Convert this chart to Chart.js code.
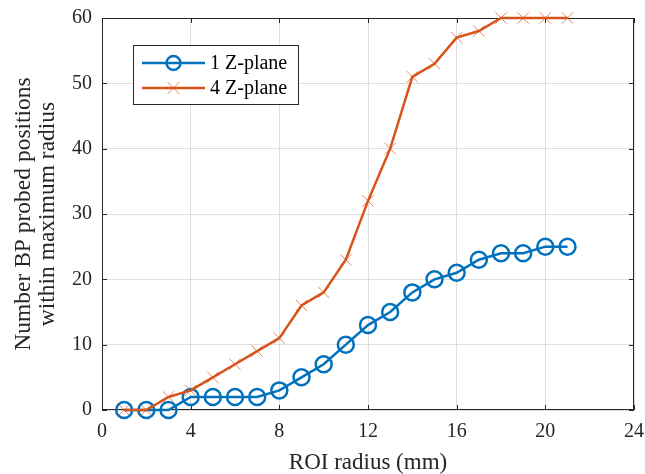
<!DOCTYPE html>
<html>
<head>
<meta charset="utf-8">
<script src="https://cdn.jsdelivr.net/npm/chart.js@4/dist/chart.umd.min.js"></script>
<style>
  html, body { margin: 0; padding: 0; background: #fff; }
  canvas { display: block; }
</style>
</head>
<body>
<canvas id="c" width="645" height="474"></canvas>
<script>
const radius = [1, 2, 3, 4, 5, 6, 7, 8, 9, 10, 11, 12, 13, 14, 15, 16, 17, 18, 19, 20, 21];
const oneZPlane = [0, 0, 0, 2, 2, 2, 2, 3, 5, 7, 10, 13, 15, 18, 20, 21, 23, 24, 24, 25, 25];
const fourZPlane = [0, 0, 2, 3, 5, 7, 9, 11, 16, 18, 23, 32, 40, 51, 53, 57, 58, 60, 60, 60, 60];
const xTicks = [0, 4, 8, 12, 16, 20, 24];
const yTicks = [0, 10, 20, 30, 40, 50, 60];
const seriesNames = ['1 Z-plane', '4 Z-plane'];
const xTitle = 'ROI radius (mm)';
const yTitle = ['Number BP probed positions', 'within maximum radius'];

const BLUE = '#0072BD';
const ORANGE = '#D95319';
const AXIS = '#262626';
const FONT = '"Liberation Serif", "Times New Roman", serif';

const toPts = (ys) => radius.map((x, i) => ({ x: x, y: ys[i] }));

const boxPlugin = {
  id: 'matlabBox',
  beforeDatasetsDraw(chart) {
    const { ctx, chartArea: a, scales } = chart;
    ctx.save();
    ctx.strokeStyle = AXIS;
    ctx.lineWidth = 1;
    ctx.beginPath();
    ctx.rect(Math.round(a.left) + 0.5, Math.round(a.top) + 0.5,
             Math.round(a.right - a.left) - 1, Math.round(a.bottom - a.top) - 1);
    ctx.stroke();
    const tl = 5;
    ctx.beginPath();
    scales.x.ticks.forEach(t => {
      const px = Math.round(scales.x.getPixelForValue(t.value)) + 0.5;
      ctx.moveTo(px, a.bottom); ctx.lineTo(px, a.bottom - tl);
      ctx.moveTo(px, a.top); ctx.lineTo(px, a.top + tl);
    });
    scales.y.ticks.forEach(t => {
      const py = Math.round(scales.y.getPixelForValue(t.value)) + 0.5;
      ctx.moveTo(a.left, py); ctx.lineTo(a.left + tl, py);
      ctx.moveTo(a.right, py); ctx.lineTo(a.right - tl, py);
    });
    ctx.stroke();
    ctx.restore();
  },
  afterDatasetsDraw(chart) {
    const { ctx } = chart;
    ctx.save();
    const bx = 133.5, by = 45.5, bw = 165, bh = 59;
    ctx.fillStyle = '#fff';
    ctx.fillRect(bx, by, bw, bh);
    ctx.strokeStyle = AXIS;
    ctx.lineWidth = 1;
    ctx.strokeRect(bx, by, bw, bh);
    const items = [
      { y: 63, color: BLUE, marker: 'circle', name: seriesNames[0] },
      { y: 88, color: ORANGE, marker: 'cross', name: seriesNames[1] }
    ];
    items.forEach(it => {
      ctx.strokeStyle = it.color;
      ctx.lineWidth = 2.5;
      ctx.beginPath();
      ctx.moveTo(142, it.y); ctx.lineTo(205, it.y);
      ctx.stroke();
      if (it.marker === 'circle') {
        ctx.lineWidth = 2.5;
        ctx.beginPath();
        ctx.arc(173.5, it.y, 7, 0, Math.PI * 2);
        ctx.stroke();
      } else {
        ctx.lineWidth = 1;
        ctx.strokeStyle = 'rgba(217,83,25,0.7)';
        const r = 6;
        ctx.beginPath();
        ctx.moveTo(173.5 - r, it.y - r); ctx.lineTo(173.5 + r, it.y + r);
        ctx.moveTo(173.5 - r, it.y + r); ctx.lineTo(173.5 + r, it.y - r);
        ctx.stroke();
      }
      ctx.fillStyle = '#000';
      ctx.font = '20px ' + FONT;
      ctx.textBaseline = 'middle';
      ctx.textAlign = 'left';
      ctx.fillText(it.name, 210, it.y + 1);
    });
    ctx.restore();
  }
};

new Chart(document.getElementById('c'), {
  type: 'line',
  data: {
    datasets: [
      {
        label: seriesNames[1],
        data: toPts(fourZPlane),
        borderColor: ORANGE,
        borderWidth: 2.5,
        pointStyle: 'crossRot',
        pointRadius: 8,
        pointBorderWidth: 1,
        pointBorderColor: 'rgba(217,83,25,0.7)',
        pointBackgroundColor: 'rgba(0,0,0,0)',
        fill: false,
        tension: 0,
        clip: false,
        order: 0
      },
      {
        label: seriesNames[0],
        data: toPts(oneZPlane),
        borderColor: BLUE,
        borderWidth: 2.5,
        pointStyle: 'circle',
        pointRadius: 8,
        pointBorderWidth: 2.5,
        pointBorderColor: BLUE,
        pointBackgroundColor: 'rgba(0,0,0,0)',
        fill: false,
        tension: 0,
        clip: false,
        order: 1
      }
    ]
  },
  options: {
    responsive: false,
    animation: false,
    events: [],
    layout: { padding: { top: 18, right: 11, left: 0, bottom: 0 } },
    plugins: { legend: { display: false }, tooltip: { enabled: false } },
    scales: {
      x: {
        type: 'linear',
        min: 0, max: 24,
        afterBuildTicks: (s) => { s.ticks = xTicks.map(v => ({ value: v })); },
        afterFit: (s) => { s.height = 64; s.paddingLeft = 0; s.paddingRight = 0; },
        ticks: { color: AXIS, font: { family: FONT, size: 20 }, padding: 10, maxRotation: 0 },
        grid: { color: 'rgba(38,38,38,0.15)', drawTicks: false },
        border: { display: false },
        title: { display: true, text: xTitle, color: AXIS, font: { family: FONT, size: 23, lineHeight: 1 }, padding: { top: 0, bottom: 0 } }
      },
      y: {
        type: 'linear',
        min: 0, max: 60,
        afterBuildTicks: (s) => { s.ticks = yTicks.map(v => ({ value: v })); },
        afterFit: (s) => { s.width = 102; s.paddingTop = 0; s.paddingBottom = 0; },
        ticks: { color: AXIS, font: { family: FONT, size: 20 }, padding: 10 },
        grid: { color: 'rgba(38,38,38,0.15)', drawTicks: false },
        border: { display: false },
        title: { display: true, text: yTitle, color: AXIS, font: { family: FONT, size: 23.5, lineHeight: 1.05 }, padding: { top: 11, bottom: 0 } }
      }
    }
  },
  plugins: [boxPlugin]
});
</script>
</body>
</html>
